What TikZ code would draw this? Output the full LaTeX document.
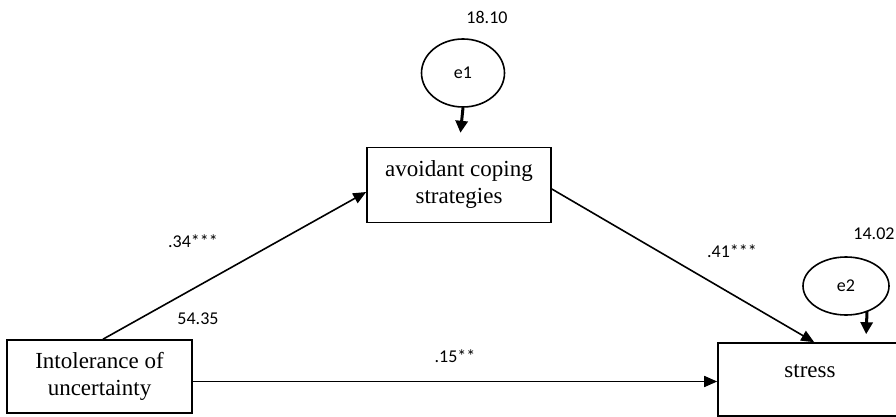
\documentclass[tikz,border=0pt]{standalone}
\usepackage{fontspec}
\setmainfont{Liberation Serif}
\newfontfamily\lblfont{Carlito}
\usetikzlibrary{arrows.meta,shapes.geometric,calc}
\begin{document}
\begin{tikzpicture}[x=1pt,y=-1pt,
  boxnode/.style={draw,line width=1.6pt,rectangle,align=center,inner sep=0pt,font=\fontsize{23}{27}\selectfont},
  errnode/.style={draw,line width=1.6pt,ellipse,inner sep=0pt,font=\lblfont\fontsize{18}{21}\selectfont},
  lbl/.style={inner sep=0pt,font=\lblfont\fontsize{18}{21}\selectfont},
  path/.style={line width=1.6pt,-{Triangle[length=13pt,width=11pt]}},
  errpath/.style={line width=3pt,-{Triangle[length=12pt,width=12pt]}}]
\useasboundingbox (0,0) rectangle (896,417);
\clip (0,0) rectangle (896,417);
\node[boxnode,minimum width=185pt,minimum height=73pt] (iu) at (99.5,376.5) {Intolerance of\\uncertainty};
\node[boxnode,minimum width=184pt,minimum height=75pt] (ac) at (459,185) {avoidant coping\\strategies};
\node[boxnode,minimum width=250pt,minimum height=73pt] (st) at (843,379.5) {};
\node[boxnode,draw=none] (stl) at (810,371) {stress};
\node[errnode,minimum width=83pt,minimum height=68pt] (e1) at (463,73) {e1};
\node[errnode,minimum width=86pt,minimum height=58pt] (e2) at (846,286) {e2};
\node[lbl] (v1) at (487,17) {18.10};
\node[lbl] (v2) at (874,234) {14.02};
\node[lbl] (v3) at (198,319) {54.35};
\node[lbl] (pa) at (193,241) {.34***};
\node[lbl] (pb) at (732,251) {.41***};
\node[lbl] (pc) at (455,356) {.15**};
\coordinate (stin) at ($(st.north west)+(97,0)$);
\coordinate (e2out) at ($(e2.south)+(21,-5)$);
\coordinate (e2in) at ($(st.north west)+(149,-8)$);
\draw[path] ([xshift=3.5pt]iu.north) -- ([yshift=-7pt]ac.west);
\draw[path] ([yshift=-4pt]ac.east) -- (stin);
\draw[path] ([yshift=-5pt]iu.east) -- ([yshift=-2pt]st.west);
\draw[errpath,shorten >=14pt] (e1.south) -- (ac.north);
\draw[errpath] (e2out) -- (e2in);
\end{tikzpicture}
\end{document}
